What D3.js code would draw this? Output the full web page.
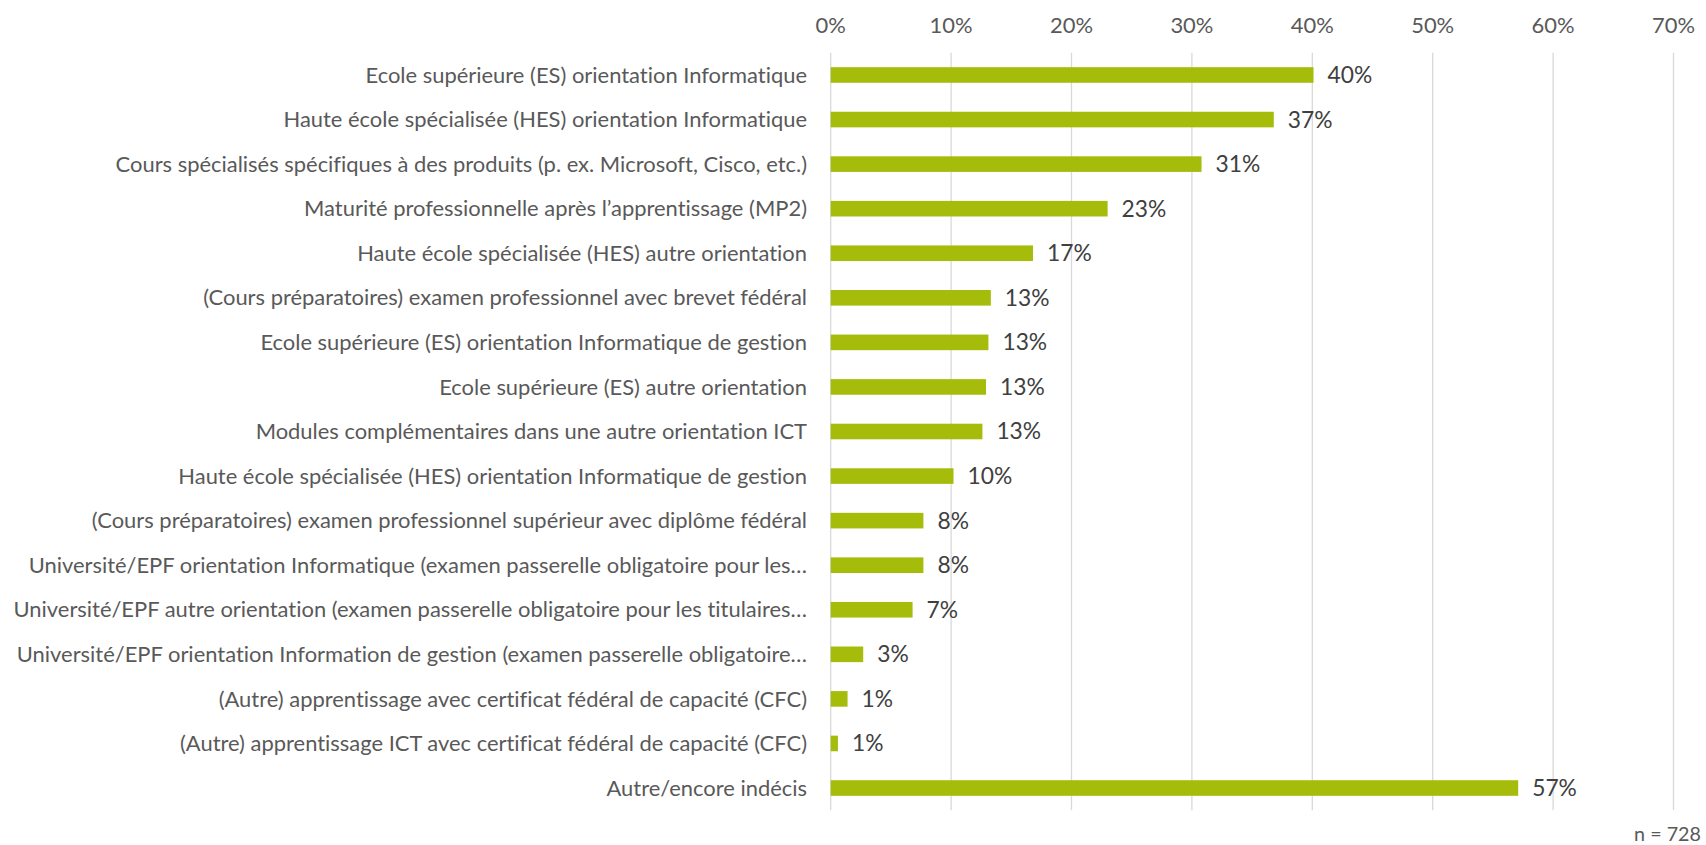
<!DOCTYPE html>
<html lang="fr">
<head>
    <meta charset="UTF-8">
    <title>Formations envisagées</title>
    <script src="https://d3js.org/d3.v7.min.js"></script>
    <style>
        body { margin: 0; background: #fff; }
        svg { display: block; font-family: Lato, "Open Sans", sans-serif; font-variant-ligatures: none; }
    </style>
</head>
<body>
<script>
// categories, top to bottom
const categories = [
    "Ecole supérieure (ES) orientation Informatique",
    "Haute école spécialisée (HES) orientation Informatique",
    "Cours spécialisés spécifiques à des produits (p. ex. Microsoft, Cisco, etc.)",
    "Maturité professionnelle après l’apprentissage (MP2)",
    "Haute école spécialisée (HES) autre orientation",
    "(Cours préparatoires) examen professionnel avec brevet fédéral",
    "Ecole supérieure (ES) orientation Informatique de gestion",
    "Ecole supérieure (ES) autre orientation",
    "Modules complémentaires dans une autre orientation ICT",
    "Haute école spécialisée (HES) orientation Informatique de gestion",
    "(Cours préparatoires) examen professionnel supérieur avec diplôme fédéral",
    "Université/EPF orientation Informatique (examen passerelle obligatoire pour les…",
    "Université/EPF autre orientation (examen passerelle obligatoire pour les titulaires…",
    "Université/EPF orientation Information de gestion (examen passerelle obligatoire…",
    "(Autre) apprentissage avec certificat fédéral de capacité (CFC)",
    "(Autre) apprentissage ICT avec certificat fédéral de capacité (CFC)",
    "Autre/encore indécis"
];
// share of respondents, in %
const values = [40.1, 36.8, 30.8, 23.0, 16.8, 13.3, 13.1, 12.9, 12.6, 10.2, 7.7, 7.7, 6.8, 2.7, 1.4, 0.6, 57.1];
const ticks = [0, 10, 20, 30, 40, 50, 60, 70];
const note = "n = 728";

const width = 1706, height = 845;
const svg = d3.select("body").append("svg")
    .attr("width", width)
    .attr("height", height);

const x = d3.scaleLinear().domain([0, 70]).range([830.7, 1673.5]);
const y = d3.scaleBand().domain(categories).range([52.7, 810.3])
    .paddingInner(0.65).paddingOuter(0.325);

// font size: the longest label should span about 796px, the first one 453px
const probe = svg.append("text").attr("font-size", 20);
const w0 = probe.text(categories[0]).node().getComputedTextLength();
const w12 = probe.text(categories[12]).node().getComputedTextLength();
const fs = Math.min(20 * 453 / w0, 20 * 794 / w12);
probe.remove();

// gridlines
svg.append("g")
    .selectAll("line")
    .data(ticks)
    .join("line")
    .attr("x1", d => x(d)).attr("x2", d => x(d))
    .attr("y1", 52.7).attr("y2", 810.3)
    .attr("stroke", "#d9d9d9")
    .attr("stroke-width", 1.3);

// top axis labels
svg.append("g")
    .selectAll("text")
    .data(ticks)
    .join("text")
    .attr("x", d => x(d))
    .attr("y", 25)
    .attr("dy", "0.35em")
    .attr("text-anchor", "middle")
    .attr("font-size", fs)
    .attr("fill", "#595959")
    .text(d => d + "%");

// bars
svg.append("g")
    .selectAll("rect")
    .data(values)
    .join("rect")
    .attr("x", x(0))
    .attr("y", (d, i) => y(categories[i]))
    .attr("width", d => x(d) - x(0))
    .attr("height", y.bandwidth())
    .attr("fill", "#a5bd0a");

// value labels
svg.append("g")
    .selectAll("text")
    .data(values)
    .join("text")
    .attr("x", d => x(d) + 14)
    .attr("y", (d, i) => y(categories[i]) + y.bandwidth() / 2)
    .attr("dy", "0.35em")
    .attr("font-size", fs * 1.04)
    .attr("fill", "#404040")
    .text(d => Math.round(d) + "%");

// category labels
svg.append("g")
    .selectAll("text")
    .data(categories)
    .join("text")
    .attr("x", 807)
    .attr("y", d => y(d) + y.bandwidth() / 2)
    .attr("dy", "0.35em")
    .attr("text-anchor", "end")
    .attr("font-size", fs)
    .attr("fill", "#595959")
    .text(d => d);

svg.append("text")
    .attr("x", 1701)
    .attr("y", 834)
    .attr("dy", "0.35em")
    .attr("text-anchor", "end")
    .attr("font-size", fs * 0.9)
    .attr("fill", "#595959")
    .text(note);
</script>
</body>
</html>
